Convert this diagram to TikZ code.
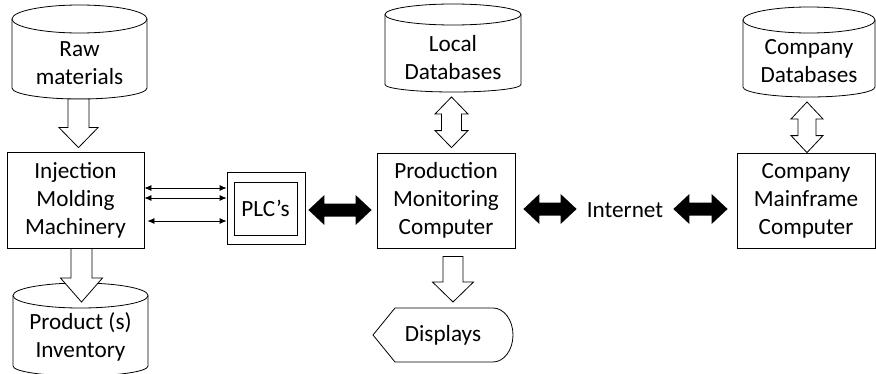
\documentclass[tikz,border=0pt]{standalone}
\usepackage{fontspec}
\setmainfont{Carlito}
\usetikzlibrary{calc,arrows.meta}

\tikzset{
  line/.style={draw=black,line width=0.8pt},
  txt/.style={align=center,font=\fontsize{23.2}{28}\selectfont,inner sep=0pt},
  boxnode/.style={txt,line,fill=white},
  hollow/.style={line,fill=white,line join=miter},
  solidarrow/.style={fill=black},
  wire/.style={line,{Latex[length=7pt,width=6pt]}-{Latex[length=7pt,width=6pt]}}
}

% cylinder outline: name, centre x, top y, bottom y, half width, top radius, bottom radius
\newcommand\cylshape[7]{%
  \draw[line] (#2-#5,#3-#6) -- (#2-#5,#4+#7)
    arc[start angle=180,end angle=360,x radius=#5,y radius=#7] -- (#2+#5,#3-#6);
  \draw[line,fill=white] (#2,#3-#6) ellipse[x radius=#5,y radius=#6];
  \coordinate (#1-top) at (#2,#3);
  \coordinate (#1-bot) at (#2,#4);
}

% hollow block arrow pointing down: start, tip, shaft half width, head half width, head length
\newcommand\hollowdown[5]{%
  \draw[hollow] let \p1=#1, \p2=#2 in
    (\x2-#3pt,\y1) -- (\x2+#3pt,\y1) -- (\x2+#3pt,\y2+#5pt) -- (\x2+#4pt,\y2+#5pt)
    -- (\x2,\y2) -- (\x2-#4pt,\y2+#5pt) -- (\x2-#3pt,\y2+#5pt) -- cycle;
}

% hollow vertical double block arrow: top tip, bottom tip, shaft half width, head half width, head length
\newcommand\hollowvdouble[5]{%
  \draw[hollow] let \p1=#1, \p2=#2 in
    (\x1,\y1) -- (\x1+#4pt,\y1-#5pt) -- (\x1+#3pt,\y1-#5pt) -- (\x1+#3pt,\y2+#5pt)
    -- (\x1+#4pt,\y2+#5pt) -- (\x1,\y2) -- (\x1-#4pt,\y2+#5pt) -- (\x1-#3pt,\y2+#5pt)
    -- (\x1-#3pt,\y1-#5pt) -- (\x1-#4pt,\y1-#5pt) -- cycle;
}

% solid horizontal double block arrow: left tip, right tip
\newcommand\blackdouble[2]{%
  \fill[solidarrow] let \p1=#1, \p2=#2 in
    (\x1,\y1) -- (\x1+16pt,\y1+15pt) -- (\x1+16pt,\y1+6.5pt) -- (\x2-16pt,\y1+6.5pt)
    -- (\x2-16pt,\y1+15pt) -- (\x2,\y1) -- (\x2-16pt,\y1-15pt) -- (\x2-16pt,\y1-6.5pt)
    -- (\x1+16pt,\y1-6.5pt) -- (\x1+16pt,\y1-15pt) -- cycle;
}

\begin{document}
\begin{tikzpicture}[x=1pt,y=1pt]
  \fill[white] (0,0) rectangle (876,373);
  \useasboundingbox (0,0) rectangle (876,373);

  % storage cylinders
  \cylshape{raw}{79.5}{368}{274}{67.5}{14}{11}
  \node[txt] (raw) at (79.5,309.5) {Raw\\materials};

  \cylshape{local}{453}{369}{281}{68}{10.5}{7.5}
  \node[txt] (local) at (453,315.5) {Local\\Databases};

  \cylshape{cdb}{809}{366}{276}{66}{13}{10}
  \node[txt] (cdb) at (809,312) {Company\\Databases};

  \cylshape{inv}{80.5}{90}{-3}{67.5}{12.5}{10}
  \node[txt] (inv) at (80.5,36) {Product (s)\\Inventory};

  % process boxes
  \node[boxnode,minimum width=137pt,minimum height=96pt] (inj) at (75.5,173)
    {Injection\\Molding\\Machinery};
  \node[line,minimum width=78pt,minimum height=72pt] (plcbox) at (266,165) {};
  \node[boxnode,minimum width=63pt,minimum height=53pt] (plc) at (265.5,164.5) {PLC’s};
  \node[boxnode,minimum width=138pt,minimum height=95pt] (prod) at (446,172.5)
    {Production\\Monitoring\\Computer};
  \node[boxnode,minimum width=138pt,minimum height=95pt] (main) at (806,172.5)
    {Company\\Mainframe\\Computer};
  \node[txt] (net) at (625,163) {Internet};

  % display terminal
  \draw[line] (373,38) -- (395,65) -- (493,65)
    arc[start angle=90,end angle=-90,x radius=20,y radius=27] -- (395,11) -- cycle;
  \coordinate (disp-top) at (453,65);
  \node[txt] (disp) at (443,38) {Displays};

  % machine to PLC signal lines
  \draw[wire] ($(inj.east)+(0,12)$) -- ($(plcbox.west)+(0,20)$);
  \draw[wire] ($(inj.east)+(0,2)$) -- ($(plcbox.west)+(0,10)$);
  \draw[wire] ($(inj.east)+(3,-21)$) -- ($(plcbox.west)+(0,-13)$);

  % material and data flow
  \hollowdown{(raw-bot)}{($(inj.north)+(3,4)$)}{10.5}{19.5}{20}
  \hollowdown{(inj.south)}{($(inv-top)+(1,-19)$)}{10.5}{21}{24}
  \hollowdown{($(prod.south)+(7,-8)$)}{($(disp-top)+(0,6)$)}{10}{20.5}{20}
  \hollowvdouble{($(local-bot)+(-1.5,-5)$)}{($(prod.north)+(6,5)$)}{10}{16.5}{17}
  \hollowvdouble{($(cdb-bot)+(-2,-5)$)}{(main.north)}{9}{16}{17}

  \blackdouble{($(plcbox.east)+(3,-2)$)}{($(prod.west)+(-5,0)$)}
  \blackdouble{($(prod.east)+(8,-8.5)$)}{($(net.west)+(-10,0)$)}
  \blackdouble{($(net.east)+(10,1)$)}{($(main.west)+(-9,0)$)}
\end{tikzpicture}
\end{document}
